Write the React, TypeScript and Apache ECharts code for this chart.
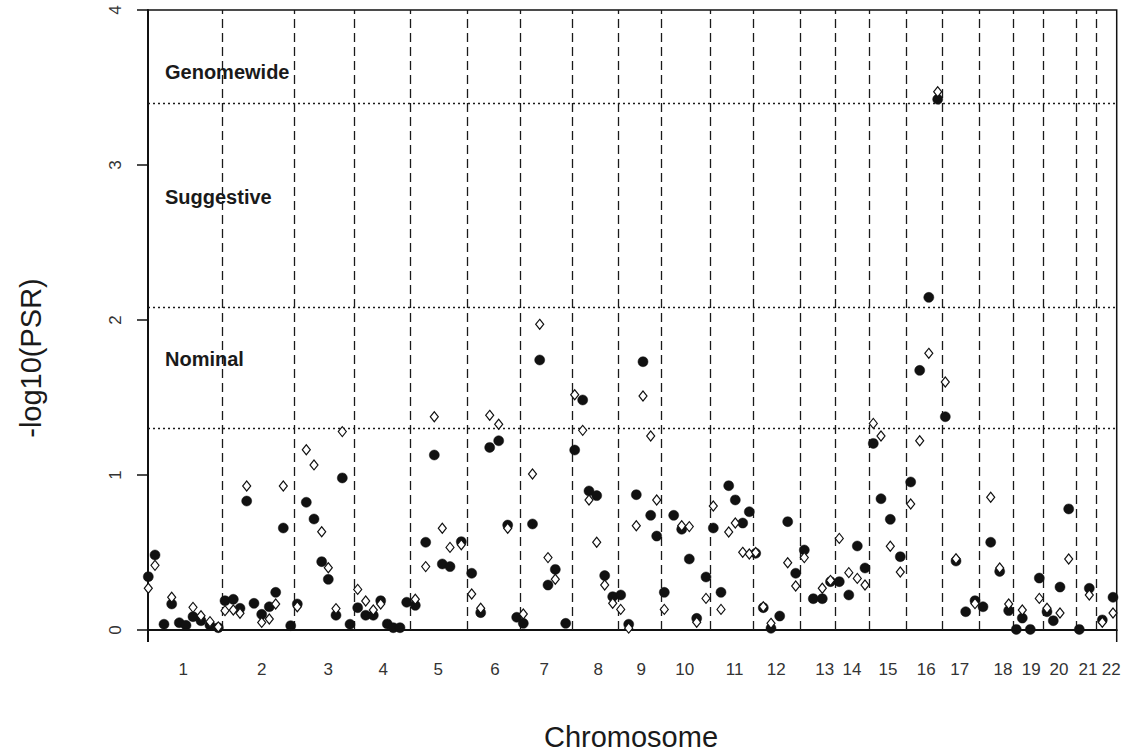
import React, { useEffect, useRef } from "react";
import * as echarts from "echarts";

// Chromosome names and map layout (cumulative map position units)
const chromosomes = ["1","2","3","4","5","6","7","8","9","10","11","12","13","14","15","16","17","18","19","20","21","22"];
const boundaries = [0, 74.7, 146, 206, 262.7, 319, 372, 424.7, 470, 513.7, 562, 605.7, 652, 687.7, 721.3, 758.3, 794, 831.7, 865, 895.7, 928.3, 948.7, 968.7];
const labelPositions = [35.3, 113.7, 180.3, 235.3, 290.3, 347, 396.3, 450.3, 493.3, 536.7, 586.7, 628.3, 676.7, 704, 740, 778.3, 811.7, 855, 883.3, 911, 940, 963.3];

// Marker positions and -log10(PSR) values for the two analyses (null = not shown)
const markerPos = [
  0.3, 7, 16, 23.7, 31.3, 38, 45, 53, 62, 70.3,
  77, 85.3, 92, 98.7, 106, 113.7, 121.3, 127.7, 135.3, 142.7,
  149.3, 158.3, 166, 173.7, 180.3, 188, 194.3, 202,
  209.7, 217.7, 225.3, 232.7, 239.3, 245.3, 252, 258.7,
  267.3, 277.7, 286.3, 294.3, 302, 313.3,
  323.7, 332.7, 341.7, 350.7, 359.7, 368.7,
  375.3, 384.5, 391.7, 400, 407.3, 417.7,
  426.7, 434.7, 441, 448.7, 456.7, 464.7,
  472.7, 480.7, 488.3, 495, 502.7, 508.7,
  516.3, 525.7, 533.7, 541.3, 548.7, 558,
  565.3, 573, 580.7, 587.3, 594.7, 601.3,
  607.7, 615.3, 623, 631.7, 639.7, 647.7,
  656.3, 665.3, 674.3, 682.5,
  691.3, 700.8, 709.3, 717,
  725.3, 733, 742.3, 752.3,
  762.7, 771.7, 780.8, 789.7,
  797.3, 808, 817.7, 827,
  835, 842.7, 851.7, 860.7,
  868.3, 874.3, 882.3, 891.3,
  899, 905.3, 912, 920.7,
  931.3, 941.3,
  954.3, 965,
];
const filledVals = [
  0.344, 0.484, 0.037, 0.168, 0.047, 0.03, 0.086, 0.06, 0.03, 0.015,
  0.189, 0.198, 0.14, 0.832, 0.172, 0.101, 0.15, 0.243, 0.658, 0.028,
  0.168, 0.824, 0.716, 0.441, 0.327, 0.095, 0.981, 0.037,
  0.144, 0.095, 0.095, 0.189, 0.039, 0.015, 0.015, 0.179,
  0.159, 0.566, 1.129, 0.426, 0.409, 0.57,
  0.366, 0.112, 1.178, 1.221, 0.677, 0.082,
  0.043, 0.684, 1.742, 0.29, 0.391, 0.043,
  1.161, 1.484, 0.897, 0.867, 0.351, 0.215,
  0.226, 0.037, 0.873, 1.731, 0.74, 0.606,
  0.243, 0.74, 0.65, 0.458, 0.075, 0.342,
  0.658, 0.243, 0.931, 0.839, 0.69, 0.763,
  0.495, 0.144, 0.011, 0.09, 0.699, 0.366,
  0.516, 0.202, 0.202, 0.312,
  0.312, 0.226, 0.542, 0.4,
  1.204, 0.847, 0.714, 0.473,
  0.955, 1.675, 2.146, 3.424,
  1.376, 0.445, 0.118, 0.189,
  0.15, 0.566, 0.378, 0.125,
  0.004, 0.077, 0.004, 0.335,
  0.118, 0.06, 0.277, 0.781,
  0.004, 0.269,
  0.065, 0.211,
];
const openVals = [
  0.269, 0.417, null, 0.211, null, null, 0.146, 0.092, 0.054, 0.02,
  0.125, 0.129, 0.108, 0.929, null, 0.049, 0.071, 0.168, 0.929, null,
  0.15, 1.163, 1.065, 0.634, 0.402, 0.138, 1.28, null,
  0.262, 0.187, 0.129, 0.168, null, null, null, null,
  0.198, 0.409, 1.376, 0.656, 0.533, 0.55,
  0.232, 0.14, 1.385, 1.327, 0.656, null,
  0.103, 1.006, 1.972, 0.467, 0.327, null,
  1.518, 1.288, 0.839, 0.566, 0.29, 0.172,
  0.133, 0.012, 0.673, 1.51, 1.252, 0.839,
  0.133, null, 0.673, 0.667, 0.05, 0.204,
  0.8, 0.133, 0.632, 0.69, 0.501, 0.49,
  0.5, 0.15, 0.043, null, 0.434, 0.284,
  0.467, null, 0.269, 0.32,
  0.591, 0.37, 0.333, 0.29,
  1.333, 1.252, 0.54, 0.374,
  0.813, 1.221, 1.785, 3.473,
  1.6, 0.46, null, 0.17,
  null, 0.856, 0.4, 0.168,
  null, 0.129, null, 0.204,
  0.14, null, 0.11, 0.458,
  null, 0.226,
  0.05, 0.11,
];

const thresholds = [3.4, 2.08, 1.3];
const thresholdNames = ["Genomewide", "Suggestive", "Nominal"];
const thresholdTextY = [72, 197, 359];

const yTicks = [0, 1, 2, 3, 4];

const FONT = '"Liberation Sans", Arial, Helvetica, sans-serif';

export default function App() {
  const ref = useRef<HTMLDivElement>(null);

  useEffect(() => {
    if (!ref.current) return;
    const chart = echarts.init(ref.current, undefined, { renderer: "svg" });

    const filledData = markerPos
      .map((p, i) => (filledVals[i] == null ? null : [p, filledVals[i]]))
      .filter((d) => d !== null);
    const openData = markerPos
      .map((p, i) => (openVals[i] == null ? null : [p, openVals[i]]))
      .filter((d) => d !== null);

    const gridLeft = 148;
    const gridTop = 10;
    const gridRight = 11.3;
    const gridBottom = 123;
    const W = 1128;
    const H = 753;
    const rightX = W - gridRight;
    const zeroY = H - gridBottom;

    const option: any = {
      animation: false,
      backgroundColor: "#ffffff",
      grid: {
        left: gridLeft,
        right: gridRight,
        top: gridTop,
        bottom: gridBottom,
        show: true,
        borderColor: "#111",
        borderWidth: 1.5,
        backgroundColor: "transparent",
      },
      xAxis: {
        type: "value",
        min: boundaries[0],
        max: boundaries[boundaries.length - 1],
        axisLine: { show: true, lineStyle: { color: "#111", width: 1.8 } },
        axisTick: { show: false },
        splitLine: { show: false },
        axisLabel: {
          show: true,
          customValues: labelPositions,
          formatter: (v: number) => {
            let best = 0;
            let bd = Infinity;
            labelPositions.forEach((p, i) => {
              const d = Math.abs(p - v);
              if (d < bd) {
                bd = d;
                best = i;
              }
            });
            return chromosomes[best];
          },
          fontFamily: FONT,
          fontSize: 17,
          color: "#333",
          margin: 31,
          hideOverlap: false,
        },
      },
      yAxis: {
        type: "value",
        min: 0,
        max: 4,
        interval: 1,
        axisLine: { show: true, lineStyle: { color: "#111", width: 2 } },
        axisTick: { show: true, length: 11, lineStyle: { color: "#111", width: 1.5 } },
        splitLine: { show: false },
        axisLabel: {
          rotate: 90,
          fontFamily: FONT,
          fontSize: 17,
          color: "#333",
          margin: 24,
          formatter: (v: number) => (yTicks.includes(v) ? String(v) : ""),
        },
      },
      series: [
        {
          type: "scatter",
          name: "filled",
          data: filledData,
          symbol: "circle",
          symbolSize: 10,
          clip: false,
          itemStyle: { color: "#111", borderColor: "#111", borderWidth: 0.5, opacity: 1 },
          z: 3,
          markLine: {
            silent: true,
            symbol: ["none", "none"],
            label: { show: false },
            animation: false,
            z: 1,
            data: [
              ...boundaries.slice(1, -1).map((b) => ({
                xAxis: b,
                lineStyle: { color: "#1a1a1a", width: 1.3, type: [9, 5], opacity: 1 },
              })),
              ...thresholds.map((t) => ({
                yAxis: t,
                lineStyle: { color: "#1a1a1a", width: 1.3, type: [2, 3], opacity: 1 },
              })),
            ],
          },
        },
        {
          type: "scatter",
          name: "open",
          data: openData,
          symbol: "diamond",
          symbolSize: [8, 10],
          clip: false,
          itemStyle: { color: "#ffffff", borderColor: "#111", borderWidth: 1.2, opacity: 1 },
          z: 4,
        },
      ],
      graphic: [
        {
          type: "line",
          shape: { x1: gridLeft, y1: zeroY, x2: gridLeft, y2: zeroY + 12 },
          style: { stroke: "#111", lineWidth: 2 },
          silent: true,
        },
        {
          type: "line",
          shape: { x1: rightX, y1: zeroY, x2: rightX, y2: zeroY + 12 },
          style: { stroke: "#111", lineWidth: 1.5 },
          silent: true,
        },
        ...thresholdNames.map((name, i) => ({
          type: "text",
          x: 165,
          y: thresholdTextY[i],
          silent: true,
          style: {
            text: name,
            fontFamily: FONT,
            fontSize: 20,
            fontWeight: "bold",
            fill: "#1a1a1a",
            align: "left",
            verticalAlign: "middle",
          },
        })),
        {
          type: "text",
          x: 631,
          y: 737,
          silent: true,
          style: {
            text: "Chromosome",
            fontFamily: FONT,
            fontSize: 29,
            fill: "#1a1a1a",
            align: "center",
            verticalAlign: "middle",
          },
        },
        {
          type: "text",
          x: 31,
          y: 358,
          rotation: Math.PI / 2,
          silent: true,
          style: {
            text: "-log10(PSR)",
            fontFamily: FONT,
            fontSize: 29,
            fill: "#1a1a1a",
            align: "center",
            verticalAlign: "middle",
          },
        },
      ],
    };

    chart.setOption(option);
    return () => {
      chart.dispose();
    };
  }, []);

  return (
    <div
      ref={ref}
      style={{ width: 1128, height: 753, position: "absolute", left: 0, top: 0, background: "#fff" }}
    />
  );
}
